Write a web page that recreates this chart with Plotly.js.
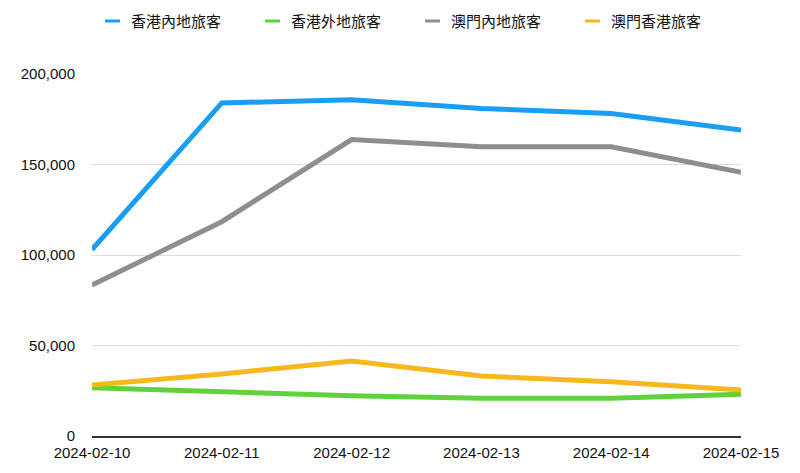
<!DOCTYPE html>
<html><head><meta charset="utf-8">
<script src="https://cdn.plot.ly/plotly-3.0.1.min.js"></script>
<style>html,body{margin:0;padding:0;background:#fff}#chart{width:800px;height:473px}</style>
</head><body><div id="chart"></div>
<script>
const dates = ["2024-02-10","2024-02-11","2024-02-12","2024-02-13","2024-02-14","2024-02-15"];
const hkMainland = [103000,184000,185800,181000,178200,169000];
const hkOther    = [26700,24500,22300,20800,20800,23000];
const moMainland = [83400,118400,163800,159800,159800,145700];
const moHK       = [28200,34300,41400,33100,30000,25400];
const names = ["香港內地旅客","香港外地旅客","澳門內地旅客","澳門香港旅客"];
const colors = ["#189ff2","#5fd23e","#8e8e8e","#f5b91e"];
const yTicks = [0,50000,100000,150000,200000];
const yTickText = ['0','50,000','100,000','150,000','200,000'];
const series = [hkMainland, hkOther, moMainland, moHK];

const W = 800, H = 473, mL = 92, mR = 59, mT = 74, mB = 37;
const pw = W - mL - mR, ph = H - mT - mB;
const px2x = p => (p - mL) / pw;
const py2y = p => (H - mB - p) / ph;

const traces = series.map((s,i)=>({
  x: dates, y: s, name: names[i], type:'scatter', mode:'lines',
  line:{color:colors[i], width:5}, showlegend:false
}));

// custom legend (layout only)
const legendStarts = [105, 265, 425, 585];
const shapes = [], annotations = [];
legendStarts.forEach((lx,i)=>{
  shapes.push({type:'line', xref:'paper', yref:'paper',
    x0:px2x(lx), x1:px2x(lx+15), y0:py2y(21), y1:py2y(21),
    line:{color:colors[i], width:3}});
  annotations.push({xref:'paper', yref:'paper', x:px2x(lx+24), y:py2y(21),
    xanchor:'left', yanchor:'middle', showarrow:false, text:names[i],
    font:{family:'"Noto Sans CJK TC", sans-serif', size:15, color:'#111'}});
});

const layout = {
  width:W, height:H,
  margin:{l:mL, r:mR, t:mT, b:mB},
  paper_bgcolor:'#fff', plot_bgcolor:'#fff',
  font:{family:'"Liberation Sans", Arial, sans-serif', size:15, color:'#111'},
  showlegend:false,
  shapes, annotations,
  xaxis:{type:'category', showgrid:false, zeroline:false, showline:true, linecolor:'#333', linewidth:2,
    ticks:'', tickfont:{size:15}, range:[0,5], automargin:false, ticklabelstandoff:2},
  yaxis:{range:[0,200000], tickvals:yTicks, ticktext:yTickText,
    showgrid:true, gridcolor:'#dcdcdc', gridwidth:1, zeroline:false, showline:false,
    ticks:'', ticklabelstandoff:16, tickfont:{size:15}, automargin:false}
};
Plotly.newPlot('chart', traces, layout, {displayModeBar:false, staticPlot:true});
</script></body></html>
